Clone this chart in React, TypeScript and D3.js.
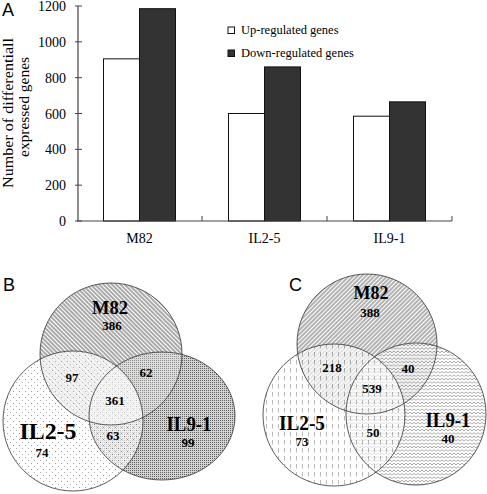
import React from "react";
import * as d3 from "d3";

const categories = ["M82", "IL2-5", "IL9-1"];
const upRegulated = [905, 600, 585];
const downRegulated = [1185, 860, 665];
const yTicks = [0, 200, 400, 600, 800, 1000, 1200];
const seriesNames = ["Up-regulated genes", "Down-regulated genes"];
const yTitleLines = ["Number of differentiall", "expressed  genes"];

const vennSetNames = ["M82", "IL2-5", "IL9-1"];
// region order: M82 only, IL2-5 only, IL9-1 only, M82∩IL2-5, M82∩IL9-1, IL2-5∩IL9-1, all
const vennBValues = [386, 74, 99, 97, 62, 63, 361];
const vennCValues = [388, 73, 40, 218, 40, 50, 539];

const serif = "'Liberation Serif', 'Times New Roman', Times, serif";
const sans = "'Liberation Sans', Arial, Helvetica, sans-serif";

function BarPanel() {
  const x = d3.scaleBand<string>().domain(categories).range([77, 452]);
  const y = d3.scaleLinear().domain([0, 1200]).range([221, 6]);
  const bw = 36;
  const axisColor = "#444";
  const titleLayout = [
    { x: 13, y: 113, w: 150 },
    { x: 29, y: 107, w: 100 },
  ];
  return (
    <g>
      <text x={2} y={16} fontFamily={sans} fontSize={18}>A</text>
      {yTitleLines.map((t, i) => (
        <text
          key={i}
          transform={`translate(${titleLayout[i].x},${titleLayout[i].y}) rotate(-90)`}
          textAnchor="middle"
          fontFamily={serif}
          fontSize={15}
          textLength={titleLayout[i].w}
          lengthAdjust="spacingAndGlyphs"
        >
          {t}
        </text>
      ))}
      {categories.map((c, i) => {
        const cx = (x(c) as number) + x.bandwidth() / 2;
        return (
          <g key={c}>
            <rect x={cx - bw} y={y(upRegulated[i])} width={bw} height={y(0) - y(upRegulated[i])} fill="#fff" stroke="#111" strokeWidth={1} />
            <rect x={cx} y={y(downRegulated[i])} width={bw} height={y(0) - y(downRegulated[i])} fill="#333" stroke="#111" strokeWidth={1} />
            <text x={cx} y={243} textAnchor="middle" fontFamily={serif} fontSize={14}>{c}</text>
          </g>
        );
      })}
      <line x1={78} x2={78} y1={y(1200)} y2={y(0)} stroke={axisColor} strokeWidth={1.2} />
      {yTicks.map((t) => (
        <g key={t}>
          <line x1={75} x2={82} y1={y(t)} y2={y(t)} stroke={axisColor} strokeWidth={1} />
          <text x={66} y={y(t) + 5} textAnchor="end" fontFamily={serif} fontSize={14}>{t}</text>
        </g>
      ))}
      <line x1={77} x2={452} y1={y(0)} y2={y(0)} stroke={axisColor} strokeWidth={1.2} />
      {categories.map((c) => {
        const xe = (x(c) as number) + x.bandwidth();
        return <line key={c} x1={xe} x2={xe} y1={y(0)} y2={y(0) - 5} stroke={axisColor} strokeWidth={1} />;
      })}
      {seriesNames.map((s, i) => (
        <g key={s}>
          <rect x={228} y={27 + i * 23} width={6.5} height={6.5} fill={i === 0 ? "#fff" : "#333"} stroke="#111" strokeWidth={1} />
          <text x={241} y={34 + i * 23} fontFamily={serif} fontSize={12.5}>{s}</text>
        </g>
      ))}
    </g>
  );
}

type Shape = { cx: number; cy: number; rx: number; ry: number };

function VennPanel(props: {
  letter: string;
  letterX: number;
  shapes: Shape[];
  fills: string[];
  opac: number[];
  overlays: [number, number, number][];
  values: number[];
  setLabelPos: { x: number; y: number; size: number; w: number }[];
  valuePos: { x: number; y: number }[];
}) {
  const { shapes, fills, opac, overlays, values, setLabelPos, valuePos, letter, letterX } = props;
  const order = [0, 2, 1];
  return (
    <g>
      <defs>
        {shapes.map((s, k) => (
          <clipPath key={k} id={`clip${letter}${k}`}>
            <ellipse cx={s.cx} cy={s.cy} rx={s.rx} ry={s.ry} />
          </clipPath>
        ))}
      </defs>
      <text x={letterX} y={291} fontFamily={sans} fontSize={18}>{letter}</text>
      {order.map((k) => (
        <ellipse key={"f" + k} cx={shapes[k].cx} cy={shapes[k].cy} rx={shapes[k].rx} ry={shapes[k].ry} fill={fills[k]} fillOpacity={opac[k]} />
      ))}
      {overlays.map(([a, b, o], i) => (
        <ellipse
          key={"o" + i}
          cx={shapes[a].cx}
          cy={shapes[a].cy}
          rx={shapes[a].rx}
          ry={shapes[a].ry}
          fill="#fff"
          fillOpacity={o}
          clipPath={`url(#clip${letter}${b})`}
        />
      ))}
      {order.map((k) => (
        <ellipse key={"s" + k} cx={shapes[k].cx} cy={shapes[k].cy} rx={shapes[k].rx} ry={shapes[k].ry} fill="none" stroke="#333" strokeWidth={0.8} />
      ))}
      {vennSetNames.map((n, i) => (
        <text
          key={n}
          x={setLabelPos[i].x}
          y={setLabelPos[i].y}
          textAnchor="middle"
          fontFamily={serif}
          fontWeight="bold"
          fontSize={setLabelPos[i].size}
          textLength={setLabelPos[i].w}
          lengthAdjust="spacingAndGlyphs"
        >
          {n}
        </text>
      ))}
      {values.map((v, i) => (
        <text key={i} x={valuePos[i].x} y={valuePos[i].y} textAnchor="middle" fontFamily={serif} fontWeight="bold" fontSize={13}>
          {v}
        </text>
      ))}
    </g>
  );
}

export default function App() {
  const shapesB: Shape[] = [
    { cx: 111, cy: 354, rx: 71, ry: 71 },
    { cx: 73, cy: 421, rx: 70, ry: 70 },
    { cx: 162, cy: 416, rx: 73, ry: 64 },
  ];
  const shapesC: Shape[] = [
    { cx: 367, cy: 344, rx: 70, ry: 70 },
    { cx: 334, cy: 415, rx: 71, ry: 71 },
    { cx: 416, cy: 414, rx: 70, ry: 71 },
  ];
  return (
    <svg width={487} height={494} style={{ position: "absolute", left: 0, top: 0, background: "#fff" }}>
      <defs>
        <pattern id="hatchB" patternUnits="userSpaceOnUse" width={3} height={3} patternTransform="rotate(-45)">
          <rect width={3} height={3} fill="#fff" />
          <line x1={1} y1={0} x2={1} y2={3} stroke="#555" strokeWidth={1} />
        </pattern>
        <pattern id="dotsB" patternUnits="userSpaceOnUse" width={6} height={6}>
          <rect width={6} height={6} fill="#fff" />
          <rect x={1} y={1} width={1} height={1} fill="#666" />
          <rect x={4} y={4} width={1} height={1} fill="#888" />
        </pattern>
        <pattern id="denseB" patternUnits="userSpaceOnUse" width={2} height={2}>
          <rect width={2} height={2} fill="#cacaca" />
          <rect x={0} y={0} width={1} height={1} fill="#444" />
        </pattern>
        <pattern id="hatchC" patternUnits="userSpaceOnUse" width={3} height={3} patternTransform="rotate(45)">
          <rect width={3} height={3} fill="#fff" />
          <line x1={1} y1={0} x2={1} y2={3} stroke="#555" strokeWidth={0.9} />
        </pattern>
        <pattern id="dashC" patternUnits="userSpaceOnUse" width={6} height={8}>
          <rect width={6} height={8} fill="#fff" />
          <line x1={2.5} y1={0} x2={2.5} y2={4.5} stroke="#777" strokeWidth={0.8} />
        </pattern>
        <pattern id="zigC" patternUnits="userSpaceOnUse" width={4} height={3.4}>
          <rect width={4} height={3.4} fill="#fff" />
          <path d="M0,2.5 L2,0.8 L4,2.5" fill="none" stroke="#555" strokeWidth={0.8} />
        </pattern>
      </defs>
      <BarPanel />
      <VennPanel
        letter="B"
        letterX={3}
        shapes={shapesB}
        fills={["url(#hatchB)", "url(#dotsB)", "url(#denseB)"]}
        opac={[1, 0.65, 0.85]}
        overlays={[
          [0, 2, 0.35],
          [0, 1, 0.25],
        ]}
        values={vennBValues}
        setLabelPos={[
          { x: 110, y: 314, size: 18, w: 36 },
          { x: 48, y: 439, size: 23, w: 57 },
          { x: 189, y: 431, size: 21, w: 45 },
        ]}
        valuePos={[
          { x: 112, y: 330 },
          { x: 42, y: 457 },
          { x: 188, y: 447 },
          { x: 72, y: 382 },
          { x: 146, y: 377 },
          { x: 113, y: 440 },
          { x: 115, y: 405 },
        ]}
      />
      <VennPanel
        letter="C"
        letterX={289}
        shapes={shapesC}
        fills={["url(#hatchC)", "url(#dashC)", "url(#zigC)"]}
        opac={[1, 0.65, 0.7]}
        overlays={[[0, 2, 0.15]]}
        values={vennCValues}
        setLabelPos={[
          { x: 371, y: 299, size: 18, w: 35 },
          { x: 302, y: 430, size: 21, w: 46 },
          { x: 448, y: 427, size: 21, w: 45 },
        ]}
        valuePos={[
          { x: 370, y: 317 },
          { x: 302, y: 446 },
          { x: 448, y: 443 },
          { x: 332, y: 372 },
          { x: 408, y: 373 },
          { x: 373, y: 437 },
          { x: 372, y: 393 },
        ]}
      />
    </svg>
  );
}
